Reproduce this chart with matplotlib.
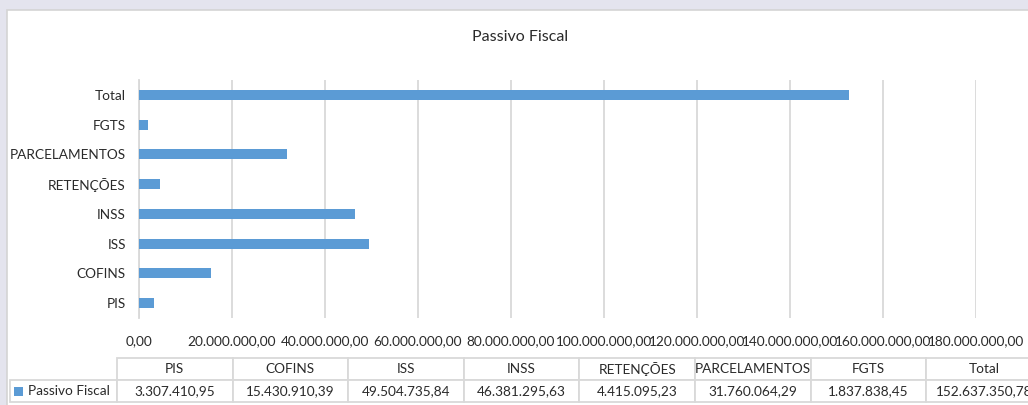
import matplotlib.pyplot as plt
from matplotlib.patches import Rectangle

# data
categorias = ["PIS", "COFINS", "ISS", "INSS", "RETENÇÕES", "PARCELAMENTOS", "FGTS", "Total"]
valores = [3307410.95, 15430910.39, 49504735.84, 46381295.63, 4415095.23,
           31760064.29, 1837838.45, 152637350.78]
rotulos_tabela = ["3.307.410,95", "15.430.910,39", "49.504.735,84", "46.381.295,63",
                  "4.415.095,23", "31.760.064,29", "1.837.838,45", "152.637.350,78"]
serie = "Passivo Fiscal"
ticks_x = [0, 20e6, 40e6, 60e6, 80e6, 100e6, 120e6, 140e6, 160e6, 180e6]


def fmt_br(v):
    s = f"{v:,.2f}"
    return s.replace(",", "X").replace(".", ",").replace("X", ".")


W, H = 1028, 405
AZUL = "#5b9bd5"
GRADE = "#d9d9d9"
TEXTO = "#2a2a2a"

plt.rcParams['font.family'] = ['Lato', 'DejaVu Sans']
plt.rcParams['font.size'] = 9.8

fig = plt.figure(figsize=(W / 100, H / 100), dpi=100, facecolor="#e4e4ee")

# white chart panel (runs off the right edge, as in the screenshot)
fig.patches.append(Rectangle((7 / W, -0.05), 1.05 - 7 / W, 1.05 - 10 / H, transform=fig.transFigure,
                             facecolor="white", edgecolor="#d4d4d4", linewidth=1.2, zorder=-10))

fig.text(520 / W, 1 - 37 / H, "Passivo Fiscal", ha="center", va="center",
         fontsize=11.5, color=TEXTO)

# bar chart
ax = fig.add_axes([139 / W, (H - 318) / H, (976 - 139) / W, 238 / H])
ax.set_facecolor("none")
pos = range(len(categorias))
ax.barh(pos, valores, height=0.34, color=AZUL, zorder=3)
ax.set_ylim(-0.5, len(categorias) - 0.5)
ax.set_xlim(0, 180e6)
ax.set_yticks(list(pos))
ax.set_yticklabels(categorias, color=TEXTO)
ax.set_xticks(ticks_x)
ax.set_xticklabels([fmt_br(t) for t in ticks_x], color=TEXTO)
ax.grid(axis="x", color=GRADE, linewidth=1.3, zorder=0)
for s in ["top", "right", "bottom"]:
    ax.spines[s].set_visible(False)
ax.spines["left"].set_color(GRADE)
ax.spines["left"].set_linewidth(1.3)
ax.tick_params(axis="both", length=0)
ax.tick_params(axis="x", pad=12)
ax.tick_params(axis="y", pad=9.5)

# data table below the chart
col0 = 107
colw = 115.6
x0 = 10
total_w = col0 + colw * len(categorias)
tab_ax = fig.add_axes([x0 / W, (H - 402) / H, total_w / W, 44 / H])
tab_ax.axis("off")
tab_ax.set_xlim(0, total_w)
tab_ax.set_ylim(0, 44)

cell_text = [[""] + categorias, [serie] + rotulos_tabela]
tab = tab_ax.table(cellText=cell_text, bbox=[0, 0, 1, 1], cellLoc="center")
tab.auto_set_font_size(False)
widths = [col0 / total_w] + [colw / total_w] * len(categorias)
for (r, c), cell in tab.get_celld().items():
    cell.set_width(widths[c])
    cell.set_edgecolor(GRADE)
    cell.set_linewidth(1.3)
    cell.get_text().set_fontsize(9.8)
    cell.get_text().set_color(TEXTO)
    if r == 0 and c == 0:
        cell.visible_edges = ""
    if r == 1 and c == 0:
        cell.get_text().set_ha("left")
        cell.PAD = 0.17

tab_ax.add_patch(Rectangle((4, 6), 9, 9, facecolor=AZUL, edgecolor="none", zorder=5))

fig.savefig("out.png", dpi=100, facecolor=fig.get_facecolor())
